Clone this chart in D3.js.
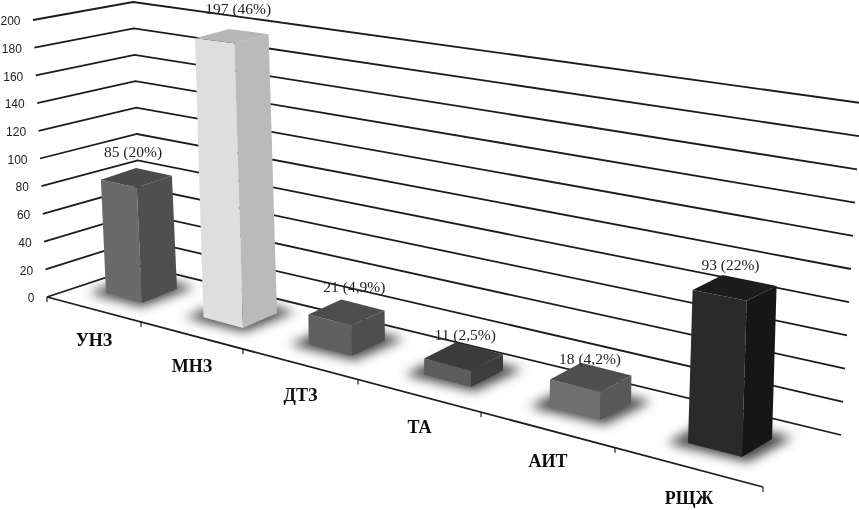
<!DOCTYPE html>
<html><head><meta charset="utf-8">
<style>html,body{margin:0;padding:0;background:#fff}svg{display:block}</style>
<script src="https://cdn.jsdelivr.net/npm/d3@7"></script>
</head><body><div id="chart"></div>
<script>
const categories = ["УНЗ","МНЗ","ДТЗ","ТА","АИТ","РЩЖ"];
const values = [85,197,21,11,18,93];
const valueLabels = ["85 (20%)","197 (46%)","21 (4,9%)","11 (2,5%)","18 (4,2%)","93 (22%)"];
const yTicks = [0,20,40,60,80,100,120,140,160,180,200];
const frontFill = ["#6b6b6b","#dedede","#616161","#5c5c5c","#707070","#2b2b2b"];
const sideFill = ["#505050","#bababa","#505050","#3d3d3d","#595959","#151515"];
const topFill = ["#4b4b4b","#b6b6b6","#4e4e4e","#3a3a3a","#505050","#1d1d1d"];

const W=859,H=510;
const svg=d3.select("#chart").append("svg").attr("width",W).attr("height",H);
const defs=svg.append("defs");
defs.append("filter").attr("id","blur").attr("x","-40%").attr("y","-60%").attr("width","180%").attr("height","220%")
  .append("feGaussianBlur").attr("stdDeviation",5.5);
defs.append("filter").attr("id","soft").append("feGaussianBlur").attr("stdDeviation",0.35);
const root=svg.append("g").attr("filter","url(#soft)");

// three edges of the projected walls
const d=[0,200];
const leftX=d3.scaleLinear(d,[47,33]), leftY=d3.scaleLinear(d,[297,20]);
const apexX=d3.scaleLinear(d,[141,133]), apexY=d3.scaleLinear(d,[266,2]);
const rightX=d3.scaleLinear(d,[841,861]), rightY=d3.scaleLinear(d,[435,103]);

const line=d3.line();
root.append("g").selectAll("path").data(yTicks).join("path")
  .attr("d",v=>line([[leftX(v),leftY(v)],[apexX(v),apexY(v)],[rightX(v),rightY(v)]]))
  .attr("fill","none").attr("stroke","#1c1c1c").attr("stroke-width",1.8);

root.append("g").selectAll("text").data(yTicks).join("text")
  .attr("x",v=>leftX(v)-12.5).attr("y",v=>leftY(v)+1).attr("dy","0.35em")
  .attr("text-anchor","end").attr("font-family","Liberation Sans, Arial, sans-serif")
  .attr("font-size",12).attr("fill","#222").text(v=>v);

// floor front edge and category ticks
const idx=d3.range(7);
const edgeX=d3.scaleLinear(idx,[47,141,243,358,481,615,763]);
const edgeY=d3.scaleLinear([47,763],[297,487]);
root.append("path").attr("d",line([[edgeX(0),edgeY(edgeX(0))],[edgeX(6),edgeY(edgeX(6))]]))
  .attr("stroke","#1c1c1c").attr("stroke-width",1.8).attr("fill","none");
root.append("g").selectAll("line").data(idx).join("line")
  .attr("x1",edgeX).attr("x2",edgeX)
  .attr("y1",i=>edgeY(edgeX(i))).attr("y2",i=>edgeY(edgeX(i))+5)
  .attr("stroke","#1c1c1c").attr("stroke-width",1.2);

root.append("g").selectAll("text").data(categories).join("text")
  .attr("x",(c,i)=>edgeX(i+0.5)).attr("y",(c,i)=>edgeY(edgeX(i+0.5))+37)
  .attr("text-anchor","middle").attr("font-family","Liberation Serif, serif")
  .attr("font-weight","bold").attr("font-size",18).attr("fill","#111").text(c=>c);

// bars
const e=[0,5];
const frontX=d3.scaleLinear(d3.range(6),[142,243,352,471,600,742]);
const frontY=d3.scaleLinear(d3.range(6),[303,328,356,387,420,457]);
const leftDx=d3.scaleLinear(e,[-36,-54]), leftDy=d3.scaleLinear(e,[-10,-14]);
const rightDx=d3.scaleLinear(e,[35,30]), rightDy=d3.scaleLinear(e,[-14,-18]);
const unit=d3.scaleLinear(d3.range(6),[1.36,1.445,1.45,1.5,1.55,1.68]);
const lean=d3.scaleLinear(e,[-0.045,0.03]);

const bars=values.map((v,i)=>{
  const h=v*unit(i), fx=frontX(i), fy=frontY(i);
  const base={
    f:[fx,fy],
    l:[fx+leftDx(i),fy+leftDy(i)],
    r:[fx+rightDx(i),fy+rightDy(i)]
  };
  base.b=[base.l[0]+base.r[0]-fx, base.l[1]+base.r[1]-fy];
  const up=(p,k)=>[p[0]+lean(i)*h*k,p[1]-h*k];
  return {i,base,top:{f:up(base.f,1),l:up(base.l,.98),r:up(base.r,.98),b:up(base.b,.96)}};
});
const poly=pts=>line(pts)+"Z";

// soft floor shadows
root.append("g").attr("filter","url(#blur)").selectAll("path").data(bars).join("path")
  .attr("fill","#4a4a4a")
  .attr("d",b=>{
    const c=[(b.base.l[0]+b.base.r[0])/2,(b.base.l[1]+b.base.r[1])/2+2];
    return poly([b.base.f,b.base.l,b.base.b,b.base.r].map(p=>[c[0]+(p[0]-c[0])*1.5,c[1]+(p[1]-c[1])*1.35]));
  });

const g=root.append("g").selectAll("g").data(bars).join("g");
g.append("path").attr("fill",b=>frontFill[b.i]).attr("d",b=>poly([b.base.l,b.base.f,b.top.f,b.top.l]));
g.append("path").attr("fill",b=>sideFill[b.i]).attr("d",b=>poly([b.base.f,b.base.r,b.top.r,b.top.f]));
g.append("path").attr("fill",b=>topFill[b.i]).attr("d",b=>poly([b.top.l,b.top.f,b.top.r,b.top.b]));

// value labels sit just above the bar's rear corner
const labelDx=[-3,9,13,9,9,8], labelDy=[-11,-15,-8,-2,1,-5];
root.append("g").selectAll("text").data(bars).join("text")
  .attr("x",b=>b.top.b[0]+labelDx[b.i]).attr("y",b=>b.top.b[1]+labelDy[b.i])
  .attr("text-anchor","middle").attr("font-family","Liberation Serif, serif")
  .attr("font-size",15.5).attr("fill","#222").text(b=>valueLabels[b.i]);
</script></body></html>
